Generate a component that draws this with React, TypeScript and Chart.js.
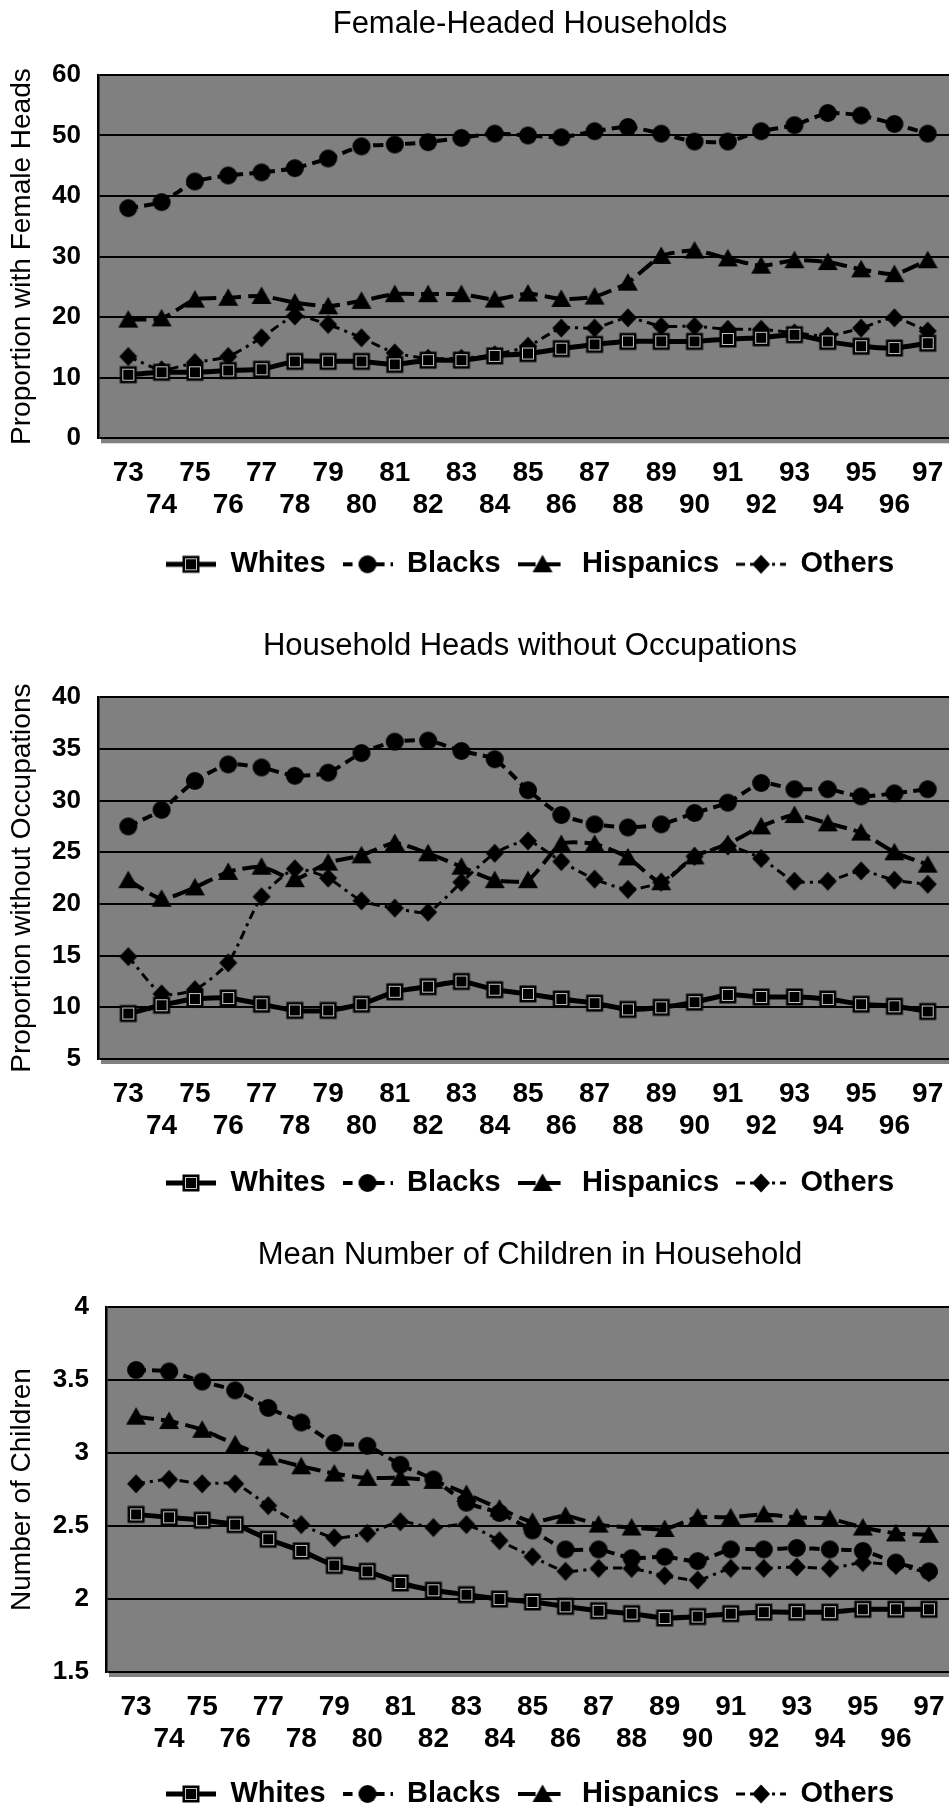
import React, { useEffect, useRef } from 'react';
import { Chart, registerables } from 'chart.js';

Chart.register(...registerables);

const FONT = '"Liberation Sans", Arial, Helvetica, sans-serif';
Chart.defaults.font.family = FONT;
Chart.defaults.color = '#000';

const years = [73, 74, 75, 76, 77, 78, 79, 80, 81, 82, 83, 84, 85, 86, 87, 88, 89, 90, 91, 92, 93, 94, 95, 96, 97];
const yearLabels = ['73', '74', '75', '76', '77', '78', '79', '80', '81', '82', '83', '84', '85', '86', '87', '88', '89', '90', '91', '92', '93', '94', '95', '96', '97'];
const seriesNames = ['Whites', 'Blacks', 'Hispanics', 'Others'];

// Chart 1: Female-Headed Households
const femaleWhites = [10.5, 10.9, 10.9, 11.2, 11.4, 12.7, 12.7, 12.7, 12.2, 12.9, 12.9, 13.6, 14.0, 14.8, 15.5, 16.0, 16.0, 16.0, 16.4, 16.6, 17.1, 16.0, 15.2, 14.9, 15.7];
const femaleBlacks = [38.0, 39.0, 42.4, 43.4, 43.9, 44.6, 46.2, 48.2, 48.5, 48.9, 49.6, 50.3, 50.0, 49.7, 50.7, 51.4, 50.3, 49.0, 49.0, 50.7, 51.7, 53.7, 53.3, 51.9, 50.3];
const femaleHispanics = [19.6, 19.8, 22.9, 23.2, 23.5, 22.4, 21.8, 22.7, 23.8, 23.8, 23.8, 22.9, 23.9, 23.0, 23.4, 25.7, 30.1, 31.0, 29.7, 28.5, 29.4, 29.1, 27.9, 27.1, 29.4];
const femaleOthers = [13.5, 11.3, 12.5, 13.5, 16.6, 20.2, 18.8, 16.6, 14.1, 13.2, 13.2, 13.8, 15.2, 18.2, 18.2, 19.9, 18.5, 18.5, 18.0, 18.0, 17.4, 16.9, 18.2, 19.9, 17.7];

// Chart 2: Household Heads without Occupations
const occWhites = [9.4, 10.2, 10.8, 10.9, 10.3, 9.7, 9.7, 10.3, 11.5, 12.0, 12.5, 11.7, 11.3, 10.8, 10.4, 9.8, 10.0, 10.5, 11.2, 11.0, 11.0, 10.8, 10.3, 10.1, 9.6];
const occBlacks = [27.5, 29.1, 31.9, 33.5, 33.2, 32.4, 32.7, 34.6, 35.7, 35.8, 34.8, 34.0, 31.0, 28.6, 27.7, 27.4, 27.7, 28.8, 29.8, 31.7, 31.1, 31.1, 30.4, 30.7, 31.1];
const occHispanics = [22.3, 20.5, 21.6, 23.1, 23.6, 22.4, 24.0, 24.7, 25.9, 24.9, 23.6, 22.3, 22.3, 25.8, 25.8, 24.5, 22.1, 24.6, 25.8, 27.5, 28.6, 27.8, 26.9, 25.0, 23.8];
const occOthers = [14.9, 11.3, 11.7, 14.3, 20.7, 23.4, 22.5, 20.3, 19.6, 19.2, 22.1, 24.9, 26.1, 24.1, 22.4, 21.4, 22.1, 24.6, 25.6, 24.4, 22.2, 22.2, 23.2, 22.3, 21.9];

// Chart 3: Mean Number of Children in Household
const kidsWhites = [2.58, 2.56, 2.54, 2.51, 2.41, 2.33, 2.23, 2.19, 2.11, 2.06, 2.03, 2.00, 1.98, 1.95, 1.92, 1.90, 1.87, 1.88, 1.90, 1.91, 1.91, 1.91, 1.93, 1.93, 1.93];
const kidsBlacks = [3.57, 3.56, 3.49, 3.43, 3.31, 3.21, 3.07, 3.05, 2.92, 2.82, 2.66, 2.59, 2.47, 2.34, 2.34, 2.28, 2.29, 2.26, 2.34, 2.34, 2.35, 2.34, 2.33, 2.25, 2.19];
const kidsHispanics = [3.25, 3.22, 3.16, 3.06, 2.97, 2.91, 2.86, 2.83, 2.83, 2.81, 2.72, 2.62, 2.53, 2.57, 2.51, 2.49, 2.48, 2.56, 2.56, 2.58, 2.56, 2.55, 2.49, 2.45, 2.44];
const kidsOthers = [2.79, 2.82, 2.79, 2.79, 2.64, 2.51, 2.42, 2.45, 2.53, 2.49, 2.51, 2.40, 2.29, 2.19, 2.21, 2.21, 2.16, 2.13, 2.21, 2.21, 2.22, 2.21, 2.25, 2.23, 2.18];

const markerKinds = ['square', 'circle', 'triangle', 'diamond'];
const lineDashes: number[][] = [[], [10, 6], [18, 7], [9, 5, 3, 5]];
const lineWidths = [5, 4, 4, 3];

const CANVAS_W = 1060;

type Spec = {
  title: string;
  yTitle: string;
  yMin: number;
  yMax: number;
  yStep: number;
  series: number[][];
  top: number;
  height: number;
  titleTop: number;
  titleBottom: number;
  yWidth: number;
  rightWidth: number;
  xHeight: number;
  padBottom: number;
};

const specs: Spec[] = [
  {
    title: 'Female-Headed Households',
    yTitle: 'Proportion with Female Heads',
    yMin: 0, yMax: 60, yStep: 10,
    series: [femaleWhites, femaleBlacks, femaleHispanics, femaleOthers],
    top: 0, height: 600, titleTop: 6, titleBottom: 31.7, yWidth: 98, rightWidth: 102, xHeight: 94.5, padBottom: 11.2,
  },
  {
    title: 'Household Heads without Occupations',
    yTitle: 'Proportion without Occupations',
    yMin: 5, yMax: 40, yStep: 5,
    series: [occWhites, occBlacks, occHispanics, occOthers],
    top: 600, height: 615, titleTop: 28, titleBottom: 32, yWidth: 98, rightWidth: 102, xHeight: 92.5, padBottom: 7.5,
  },
  {
    title: 'Mean Number of Children in Household',
    yTitle: 'Number of Children',
    yMin: 1.5, yMax: 4, yStep: 0.5,
    series: [kidsWhites, kidsBlacks, kidsHispanics, kidsOthers],
    top: 1215, height: 605, titleTop: 21.5, titleBottom: 33.5, yWidth: 106, rightWidth: 101, xHeight: 90.5, padBottom: 1.5,
  },
];

function drawMarker(c: CanvasRenderingContext2D, kind: string, cx: number, cy: number) {
  c.fillStyle = '#000';
  if (kind === 'square') {
    c.fillRect(cx - 8.5, cy - 8.5, 17, 17);
    c.strokeStyle = '#c8c8c8';
    c.lineWidth = 1;
    c.strokeRect(cx - 5.5, cy - 5.5, 11, 11);
  } else if (kind === 'circle') {
    c.beginPath();
    c.arc(cx, cy, 9, 0, Math.PI * 2);
    c.fill();
  } else if (kind === 'triangle') {
    c.beginPath();
    c.moveTo(cx, cy - 9.5);
    c.lineTo(cx + 10, cy + 8);
    c.lineTo(cx - 10, cy + 8);
    c.closePath();
    c.fill();
  } else {
    c.beginPath();
    c.moveTo(cx, cy - 9.5);
    c.lineTo(cx + 9, cy);
    c.lineTo(cx, cy + 9.5);
    c.lineTo(cx - 9, cy);
    c.closePath();
    c.fill();
  }
}

function makeCanvas(w: number, h: number, draw: (c: CanvasRenderingContext2D) => void) {
  const cv = document.createElement('canvas');
  cv.width = w;
  cv.height = h;
  const c = cv.getContext('2d');
  if (c) draw(c);
  return cv;
}

function makeMarker(i: number) {
  return makeCanvas(22, 22, (c) => drawMarker(c, markerKinds[i], 11, 11));
}

function makeLegendIcon(i: number) {
  return makeCanvas(50, 22, (c) => {
    c.strokeStyle = '#000';
    c.lineWidth = lineWidths[i];
    c.setLineDash(lineDashes[i]);
    c.beginPath();
    c.moveTo(0, 11);
    c.lineTo(50, 11);
    c.stroke();
    c.setLineDash([]);
    drawMarker(c, markerKinds[i], 25, 11);
  });
}

const plotBackground = {
  id: 'plotBackground',
  beforeDraw(chart: any) {
    const { ctx, chartArea: a } = chart;
    ctx.save();
    ctx.fillStyle = '#808080';
    ctx.fillRect(a.left + 3, a.top + 3, a.right - a.left, a.bottom - a.top + 2);
    ctx.fillRect(a.left, a.top, a.right - a.left, a.bottom - a.top);
    ctx.restore();
  },
};

function LineChart({ spec }: { spec: Spec }) {
  const ref = useRef<HTMLCanvasElement>(null);
  useEffect(() => {
    if (!ref.current) return;
    const markers = markerKinds.map((_, i) => makeMarker(i));
    const legendIcons = markerKinds.map((_, i) => makeLegendIcon(i));
    const chart = new Chart(ref.current, {
      type: 'line',
      data: {
        datasets: spec.series.map((vals, i) => ({
          label: seriesNames[i],
          data: years.map((x, j) => ({ x, y: vals[j] })),
          borderColor: '#000',
          backgroundColor: '#000',
          borderWidth: lineWidths[i],
          borderDash: lineDashes[i],
          pointStyle: markers[i] as any,
          pointRadius: 9,
          pointHoverRadius: 9,
          tension: 0.2,
          fill: false,
        })),
      },
      options: {
        responsive: false,
        animation: false,
        devicePixelRatio: 1,
        events: [],
        layout: { padding: { left: 0, right: 0, top: 0, bottom: spec.padBottom } },
        plugins: {
          title: {
            display: true,
            text: spec.title,
            color: '#000',
            font: { family: FONT, size: 31, weight: 'normal', lineHeight: 1.2 },
            padding: { top: spec.titleTop, bottom: spec.titleBottom },
          },
          legend: {
            display: true,
            position: 'bottom',
            labels: {
              usePointStyle: true,
              pointStyleWidth: 50,
              padding: 17,
              color: '#000',
              font: { family: FONT, size: 29, weight: 'bold' },
              generateLabels: (ch: any) =>
                ch.data.datasets.map((ds: any, i: number) => ({
                  text: ds.label,
                  pointStyle: legendIcons[i],
                  datasetIndex: i,
                  hidden: false,
                  fillStyle: '#000',
                  strokeStyle: '#000',
                  lineWidth: 0,
                  fontColor: '#000',
                })),
            },
          },
          tooltip: { enabled: false },
        },
        scales: {
          x: {
            type: 'linear',
            bounds: 'data',
            min: 72.09,
            max: 97.91,
            grid: { display: false, drawTicks: false },
            border: { display: false },
            afterBuildTicks: (s: any) => {
              s.ticks = years.map((v) => ({ value: v }));
            },
            afterFit: (s: any) => {
              s.height = spec.xHeight;
            },
            ticks: {
              autoSkip: false,
              maxRotation: 0,
              minRotation: 0,
              padding: 19,
              color: '#000',
              font: { family: FONT, size: 28, weight: 'bold', lineHeight: 1.15 },
              callback: (value: any) => {
                const idx = years.indexOf(Math.round(Number(value)));
                if (idx < 0) return '';
                const lab = yearLabels[idx];
                return years[idx] % 2 === 1 ? [lab, ''] : ['', lab];
              },
            },
          },
          y: {
            type: 'linear',
            position: 'left',
            min: spec.yMin,
            max: spec.yMax,
            afterFit: (s: any) => {
              s.width = spec.yWidth;
            },
            grid: { color: '#000', lineWidth: 2, drawTicks: false },
            border: { display: true, color: '#000', width: 2.5 },
            ticks: {
              stepSize: spec.yStep,
              padding: 17,
              color: '#000',
              font: { family: FONT, size: 26, weight: 'bold' },
              callback: (value: any) => String(Math.round(Number(value) * 10) / 10),
            },
            title: {
              display: true,
              text: spec.yTitle,
              color: '#000',
              font: { family: FONT, size: 28, weight: 'normal', lineHeight: 1.2 },
              padding: { top: 5, bottom: 0 },
            },
          },
          yRight: {
            type: 'linear',
            position: 'right',
            display: true,
            grid: { display: false, drawTicks: false },
            border: { display: false },
            ticks: { display: false },
            afterFit: (s: any) => {
              s.width = spec.rightWidth;
            },
          },
        },
      } as any,
      plugins: [plotBackground],
    });
    return () => chart.destroy();
  }, [spec]);
  return (
    <canvas
      ref={ref}
      width={CANVAS_W}
      height={spec.height}
      style={{ position: 'absolute', left: 0, top: spec.top, display: 'block' }}
    />
  );
}

export default function App() {
  return (
    <div
      style={{
        position: 'absolute',
        left: 0,
        top: 0,
        width: 949,
        height: 1806,
        overflow: 'hidden',
        background: '#fff',
      }}
    >
      {specs.map((s, i) => (
        <LineChart key={i} spec={s} />
      ))}
    </div>
  );
}
